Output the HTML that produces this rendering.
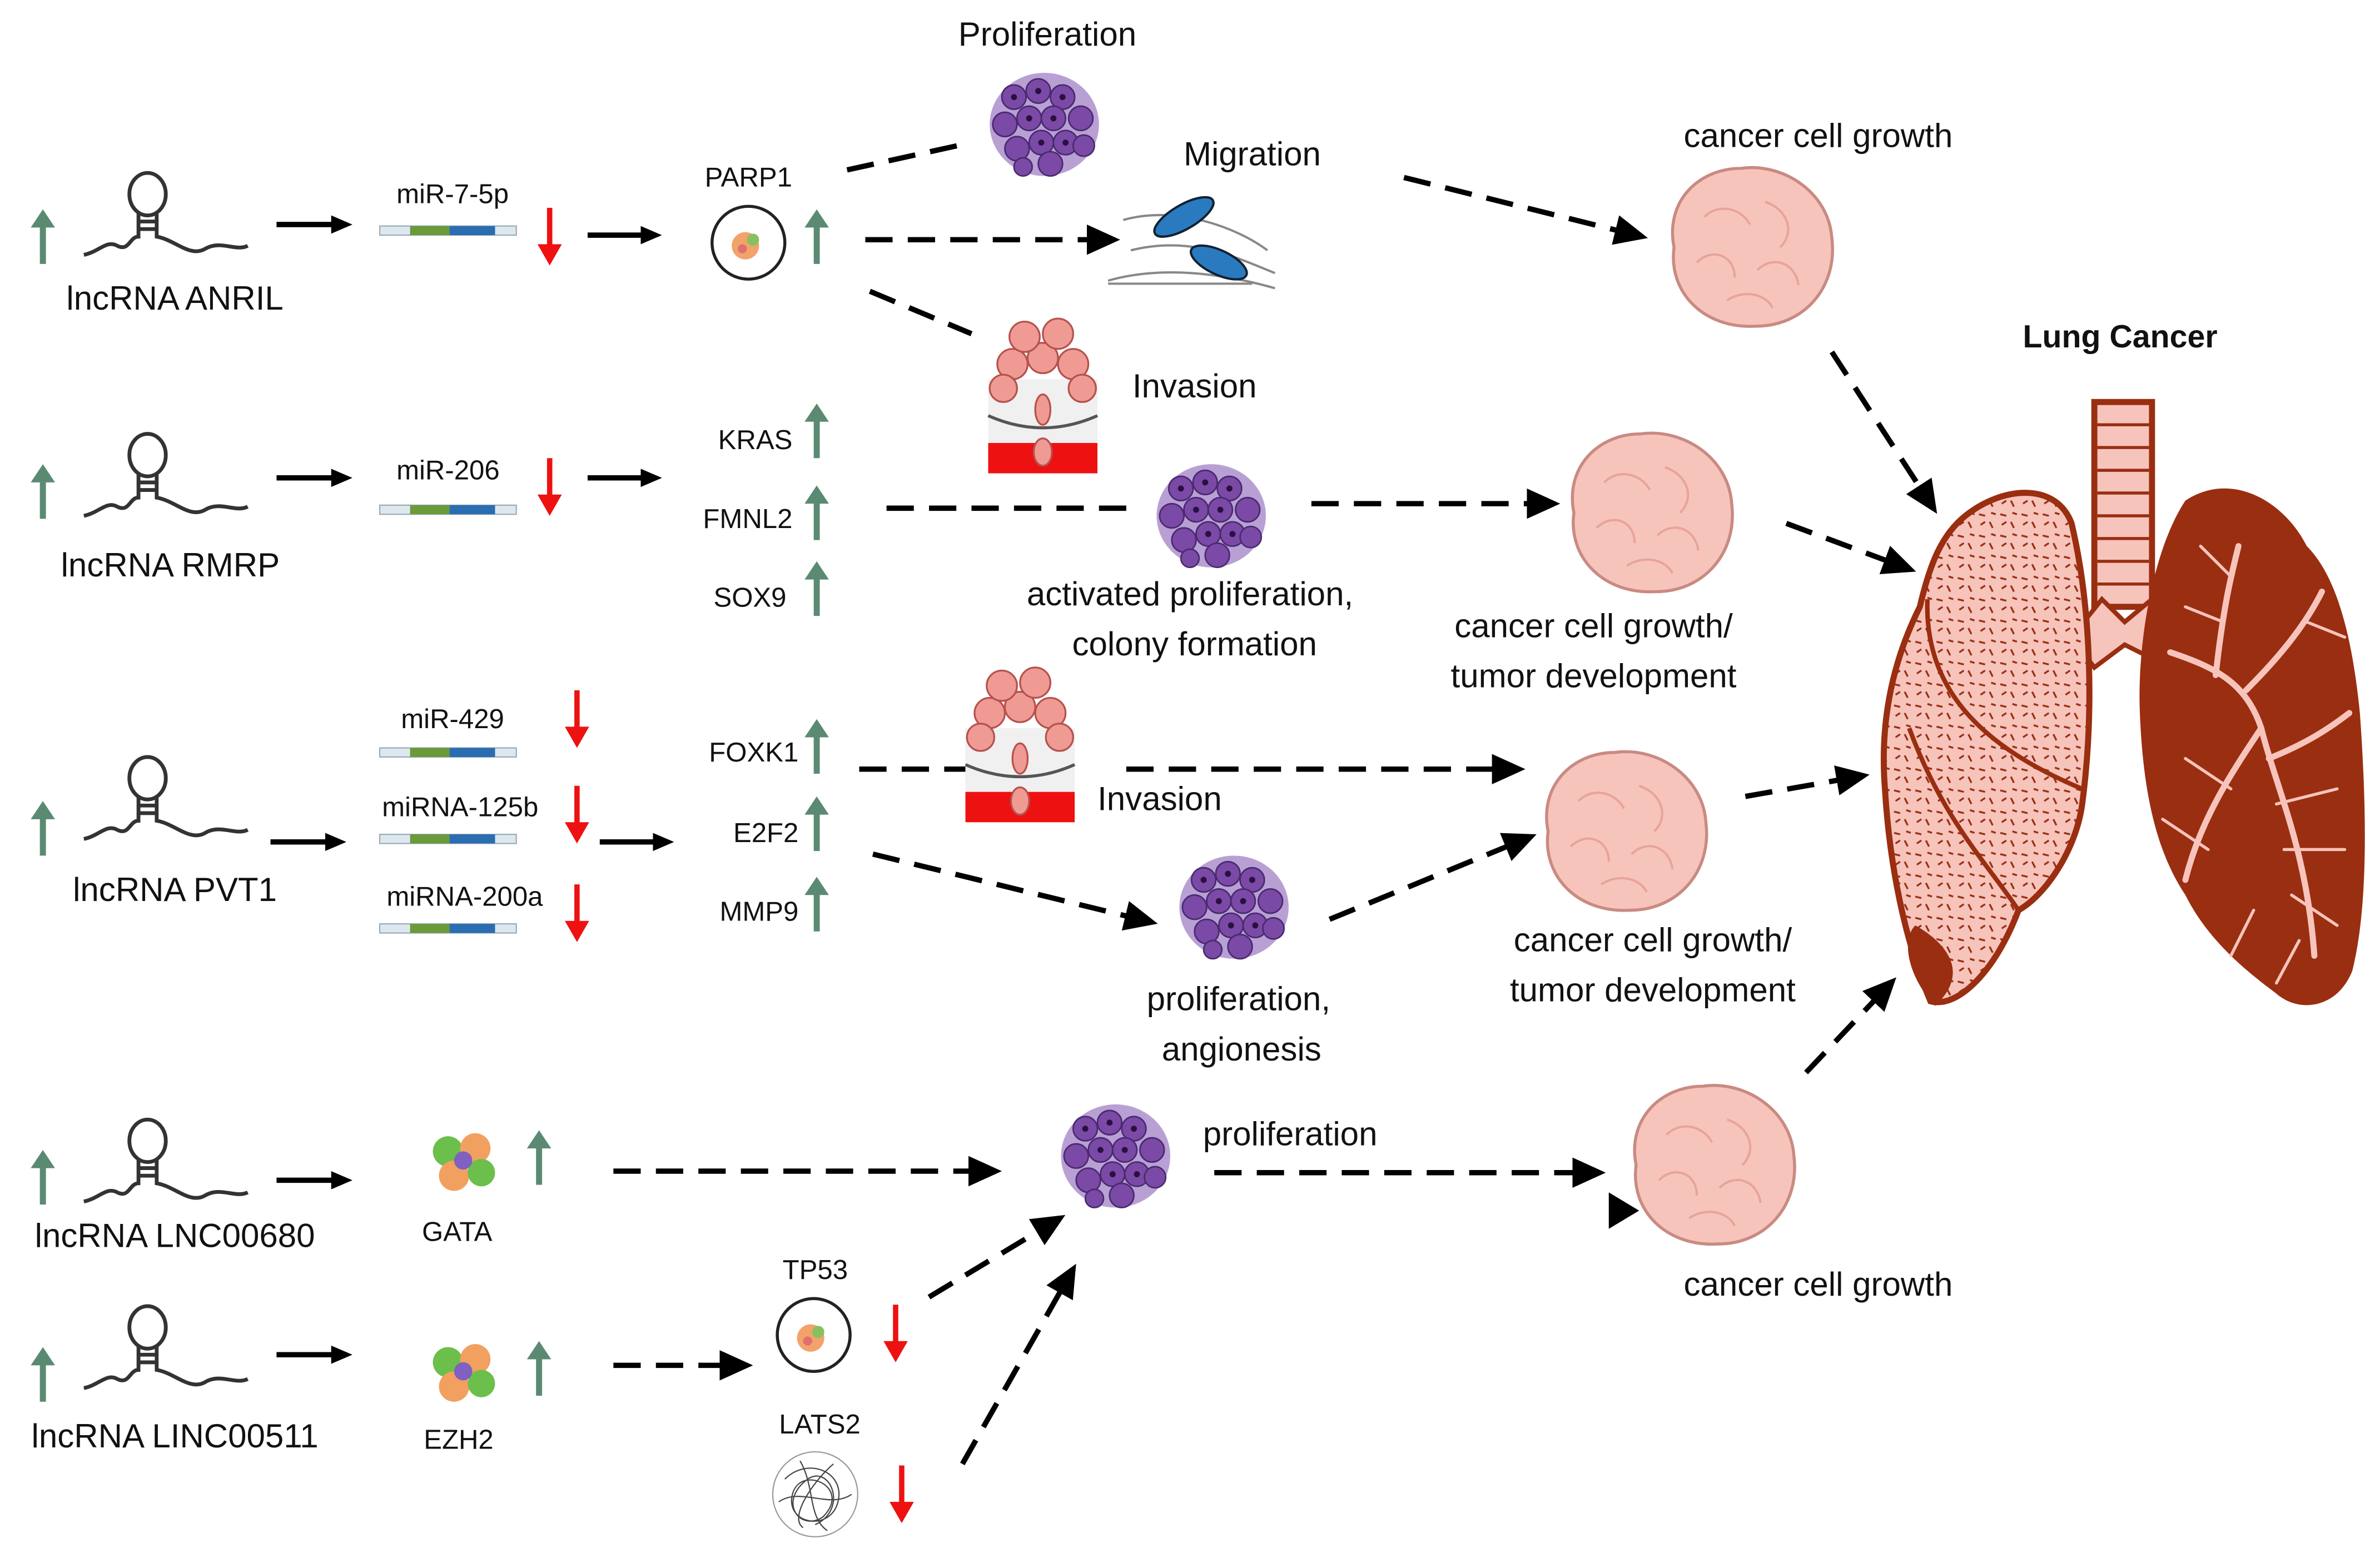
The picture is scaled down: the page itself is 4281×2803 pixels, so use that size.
<!DOCTYPE html>
<html><head><meta charset="utf-8"><style>
html,body{margin:0;padding:0;background:#fff;}
svg{display:block;}
text{font-family:"Liberation Sans",sans-serif;fill:#111;}
</style></head><body>
<svg width="4281" height="2803" viewBox="0 0 1568 1027" xmlns="http://www.w3.org/2000/svg">
<defs>
<marker id="ah" markerWidth="24" markerHeight="24" refX="14" refY="12" orient="auto" markerUnits="userSpaceOnUse" viewBox="0 0 24 24"><path d="M0,2 L22,12 L0,22 z" fill="#000"/></marker>
<marker id="ahs" markerWidth="14" markerHeight="14" refX="8" refY="7" orient="auto" markerUnits="userSpaceOnUse" viewBox="0 0 14 14"><path d="M0,1 L14,7 L0,13 z" fill="#000"/></marker>
<pattern id="spk" width="14" height="14" patternUnits="userSpaceOnUse">
<path d="M2,3 l4,1 M9,8 l2,4 M3,10 l3,-2 M10,2 l3,1" stroke="#9a2e10" stroke-width="1.2"/>
</pattern>
<g id="up"><line x1="0" y1="36" x2="0" y2="8" stroke="#5b8a73" stroke-width="4"/><path d="M-8,12 L0,0 L8,12 z" fill="#5b8a73"/></g>
<g id="dn"><line x1="0" y1="0" x2="0" y2="28" stroke="#ee1111" stroke-width="3.5"/><path d="M-8,24 L0,38 L8,24 z" fill="#ee1111"/></g>
<g id="rna" fill="none" stroke="#333" stroke-width="2.5">
<path d="M0,50 C10,48 15,40 22,44 C30,48 30,38 36,38 L36,22"/>
<ellipse cx="42" cy="10" rx="12" ry="14"/>
<path d="M48,22 L48,38 C60,40 70,52 80,46 C90,40 100,48 108,44"/>
<line x1="36" y1="28" x2="48" y2="28"/><line x1="36" y1="33" x2="48" y2="33"/>
</g>
<g id="mir"><rect x="0" y="0" width="90" height="6" fill="#dde8ee" stroke="#9ab" stroke-width="0.8"/><rect x="20" y="0" width="26" height="6" fill="#6a9a3a"/><rect x="46" y="0" width="30" height="6" fill="#2a6db0"/></g>
<g id="cells">
<ellipse cx="0" cy="0" rx="36" ry="34" fill="#b9a0d4"/>
<g fill="#7a4aa6" stroke="#4a2a70" stroke-width="1">
<circle cx="-20" cy="-18" r="8"/><circle cx="-4" cy="-22" r="8"/><circle cx="12" cy="-18" r="8"/><circle cx="24" cy="-4" r="8"/>
<circle cx="-26" cy="0" r="8"/><circle cx="-10" cy="-4" r="8"/><circle cx="6" cy="-4" r="8"/><circle cx="-18" cy="16" r="8"/>
<circle cx="-2" cy="12" r="8"/><circle cx="14" cy="12" r="8"/><circle cx="26" cy="14" r="7"/><circle cx="4" cy="26" r="8"/><circle cx="-14" cy="28" r="6"/>
</g>
<g fill="#2a1040"><circle cx="-20" cy="-18" r="2"/><circle cx="-4" cy="-22" r="2"/><circle cx="12" cy="-18" r="2"/><circle cx="-10" cy="-4" r="2"/><circle cx="6" cy="-4" r="2"/><circle cx="-2" cy="12" r="2"/><circle cx="14" cy="12" r="2"/></g>
</g>
<g id="tumor">
<path d="M-50,0 C-56,-30 -34,-52 -6,-52 C22,-56 52,-36 54,-6 C58,26 36,52 4,52 C-30,54 -54,30 -50,0 z" fill="#f7c4bc" stroke="#c98a82" stroke-width="2"/>
<g fill="none" stroke="#e7a49a" stroke-width="1.5"><path d="M-30,-20 C-20,-30 -5,-25 0,-15"/><path d="M10,-30 C25,-25 30,-10 20,0"/><path d="M-35,10 C-25,0 -10,5 -10,20"/><path d="M5,15 C15,5 30,10 32,25"/><path d="M-15,35 C-5,28 10,30 15,40"/></g>
</g>
<g id="inv">
<rect x="-36" y="-10" width="72" height="60" fill="#f0f0f0"/>
<rect x="-36" y="32" width="72" height="20" fill="#ee1111"/>
<path d="M-36,14 Q0,30 36,14" fill="none" stroke="#555" stroke-width="2"/>
<g fill="#f09a94" stroke="#b5524e" stroke-width="1.2"><circle cx="-20" cy="-20" r="10"/><circle cx="0" cy="-24" r="10"/><circle cx="20" cy="-20" r="10"/><circle cx="-12" cy="-38" r="10"/><circle cx="10" cy="-40" r="10"/><circle cx="-26" cy="-4" r="9"/><circle cx="26" cy="-4" r="9"/><ellipse cx="0" cy="10" rx="5" ry="10"/><ellipse cx="0" cy="38" rx="6" ry="9"/></g>
</g>
<g id="cellc"><circle cx="0" cy="0" r="24" fill="#fff" stroke="#222" stroke-width="2"/><circle cx="-2" cy="2" r="9" fill="#f2a36a"/><circle cx="3" cy="-2" r="4" fill="#88c060"/><circle cx="-4" cy="4" r="3" fill="#e07070"/></g>
<g id="prot"><circle cx="-10" cy="-6" r="10" fill="#6cbf4a"/><circle cx="8" cy="-8" r="10" fill="#f2a060"/><circle cx="-6" cy="10" r="10" fill="#f2a060"/><circle cx="12" cy="8" r="9" fill="#6cbf4a"/><circle cx="0" cy="0" r="6" fill="#8060c0"/></g>
</defs>

<!-- Row 1 ANRIL -->
<use href="#up" x="28" y="138"/>
<use href="#rna" x="55" y="118"/>
<text x="115" y="204" font-size="22" text-anchor="middle">lncRNA ANRIL</text>
<line x1="182" y1="148" x2="226" y2="148" stroke="#000" stroke-width="3.5" marker-end="url(#ahs)"/>
<text x="298" y="134" font-size="18" text-anchor="middle">miR-7-5p</text>
<use href="#mir" x="250" y="149"/>
<use href="#dn" x="362" y="137"/>
<line x1="387" y1="155" x2="430" y2="155" stroke="#000" stroke-width="3.5" marker-end="url(#ahs)"/>
<text x="493" y="123" font-size="18" text-anchor="middle">PARP1</text>
<use href="#cellc" x="493" y="160"/>
<use href="#up" x="538" y="138"/>

<text x="690" y="30" font-size="22" text-anchor="middle">Proliferation</text>
<use href="#cells" x="688" y="82"/>
<line x1="558" y1="112" x2="640" y2="94" stroke="#000" stroke-width="3.5" stroke-dasharray="18,10"/>
<text x="825" y="109" font-size="22" text-anchor="middle">Migration</text>
<g transform="translate(785,155)">
<path d="M-55,30 C-20,20 20,25 55,35 M-45,-10 C-10,-20 30,-5 50,10 M-40,10 C0,0 30,15 55,25 M-55,32 L40,32" fill="none" stroke="#888" stroke-width="1.5"/>
<ellipse cx="-5" cy="-12" rx="22" ry="8" fill="#2a7ac0" stroke="#123" stroke-width="1.5" transform="rotate(-30 -5 -12)"/>
<ellipse cx="18" cy="18" rx="20" ry="8" fill="#2a7ac0" stroke="#123" stroke-width="1.5" transform="rotate(25 18 18)"/>
</g>
<line x1="570" y1="158" x2="730" y2="158" stroke="#000" stroke-width="3.5" stroke-dasharray="18,10" marker-end="url(#ah)"/>
<line x1="573" y1="192" x2="640" y2="220" stroke="#000" stroke-width="3.5" stroke-dasharray="18,10"/>
<use href="#inv" x="687" y="260"/>
<text x="787" y="262" font-size="22" text-anchor="middle">Invasion</text>
<text x="1198" y="97" font-size="22" text-anchor="middle">cancer cell growth</text>
<line x1="925" y1="117" x2="1078" y2="155" stroke="#000" stroke-width="3.5" stroke-dasharray="18,10" marker-end="url(#ah)"/>
<use href="#tumor" x="1153" y="163"/>
<line x1="1207" y1="232" x2="1272" y2="332" stroke="#000" stroke-width="3.5" stroke-dasharray="18,10" marker-end="url(#ah)"/>

<!-- Row 2 RMRP -->
<use href="#up" x="28" y="306"/>
<use href="#rna" x="55" y="290"/>
<text x="112" y="380" font-size="22" text-anchor="middle">lncRNA RMRP</text>
<line x1="182" y1="315" x2="226" y2="315" stroke="#000" stroke-width="3.5" marker-end="url(#ahs)"/>
<text x="295" y="316" font-size="18" text-anchor="middle">miR-206</text>
<use href="#mir" x="250" y="333"/>
<use href="#dn" x="362" y="302"/>
<line x1="387" y1="315" x2="430" y2="315" stroke="#000" stroke-width="3.5" marker-end="url(#ahs)"/>
<text x="522" y="296" font-size="18" text-anchor="end">KRAS</text>
<use href="#up" x="538" y="266"/>
<text x="522" y="348" font-size="18" text-anchor="end">FMNL2</text>
<use href="#up" x="538" y="320"/>
<text x="518" y="400" font-size="18" text-anchor="end">SOX9</text>
<use href="#up" x="538" y="370"/>
<line x1="584" y1="335" x2="750" y2="335" stroke="#000" stroke-width="3.5" stroke-dasharray="18,10"/>
<use href="#cells" x="798" y="340"/>
<text x="784" y="399" font-size="22" text-anchor="middle">activated proliferation,</text>
<text x="787" y="432" font-size="22" text-anchor="middle">colony formation</text>
<line x1="864" y1="332" x2="1020" y2="332" stroke="#000" stroke-width="3.5" stroke-dasharray="18,10" marker-end="url(#ah)"/>
<use href="#tumor" x="1087" y="338"/>
<text x="1050" y="420" font-size="22" text-anchor="middle">cancer cell growth/</text>
<text x="1050" y="453" font-size="22" text-anchor="middle">tumor development</text>
<line x1="1177" y1="345" x2="1255" y2="374" stroke="#000" stroke-width="3.5" stroke-dasharray="18,10" marker-end="url(#ah)"/>

<text x="1397" y="229" font-size="21" font-weight="bold" text-anchor="middle">Lung Cancer</text>

<!-- Row 3 PVT1 -->
<use href="#up" x="28" y="528"/>
<use href="#rna" x="55" y="503"/>
<text x="115" y="594" font-size="22" text-anchor="middle">lncRNA PVT1</text>
<line x1="178" y1="555" x2="222" y2="555" stroke="#000" stroke-width="3.5" marker-end="url(#ahs)"/>
<text x="298" y="480" font-size="18" text-anchor="middle">miR-429</text>
<use href="#mir" x="250" y="493"/>
<use href="#dn" x="380" y="455"/>
<text x="303" y="538" font-size="18" text-anchor="middle">miRNA-125b</text>
<use href="#mir" x="250" y="550"/>
<use href="#dn" x="380" y="518"/>
<text x="306" y="597" font-size="18" text-anchor="middle">miRNA-200a</text>
<use href="#mir" x="250" y="609"/>
<use href="#dn" x="380" y="583"/>
<line x1="395" y1="555" x2="438" y2="555" stroke="#000" stroke-width="3.5" marker-end="url(#ahs)"/>
<text x="526" y="502" font-size="18" text-anchor="end">FOXK1</text>
<use href="#up" x="538" y="474"/>
<text x="526" y="555" font-size="18" text-anchor="end">E2F2</text>
<use href="#up" x="538" y="525"/>
<text x="526" y="607" font-size="18" text-anchor="end">MMP9</text>
<use href="#up" x="538" y="578"/>
<line x1="566" y1="507" x2="636" y2="507" stroke="#000" stroke-width="3.5" stroke-dasharray="18,10"/>
<use href="#inv" x="672" y="490"/>
<text x="764" y="534" font-size="22" text-anchor="middle">Invasion</text>
<line x1="742" y1="507" x2="997" y2="507" stroke="#000" stroke-width="3.5" stroke-dasharray="18,10" marker-end="url(#ah)"/>
<line x1="575" y1="563" x2="755" y2="607" stroke="#000" stroke-width="3.5" stroke-dasharray="18,10" marker-end="url(#ah)"/>
<use href="#cells" x="813" y="598"/>
<text x="816" y="666" font-size="22" text-anchor="middle">proliferation,</text>
<text x="818" y="699" font-size="22" text-anchor="middle">angionesis</text>
<line x1="876" y1="606" x2="1005" y2="553" stroke="#000" stroke-width="3.5" stroke-dasharray="18,10" marker-end="url(#ah)"/>
<use href="#tumor" x="1070" y="548"/>
<text x="1089" y="627" font-size="22" text-anchor="middle">cancer cell growth/</text>
<text x="1089" y="660" font-size="22" text-anchor="middle">tumor development</text>
<line x1="1150" y1="525" x2="1224" y2="512" stroke="#000" stroke-width="3.5" stroke-dasharray="18,10" marker-end="url(#ah)"/>

<!-- Row 4 LNC00680 -->
<use href="#up" x="28" y="758"/>
<use href="#rna" x="55" y="742"/>
<text x="115" y="822" font-size="22" text-anchor="middle">lncRNA LNC00680</text>
<line x1="182" y1="778" x2="226" y2="778" stroke="#000" stroke-width="3.5" marker-end="url(#ahs)"/>
<use href="#prot" x="305" y="765"/>
<text x="301" y="818" font-size="18" text-anchor="middle">GATA</text>
<use href="#up" x="355" y="745"/>
<line x1="404" y1="772" x2="652" y2="772" stroke="#000" stroke-width="3.5" stroke-dasharray="18,10" marker-end="url(#ah)"/>
<use href="#cells" x="735" y="762"/>
<text x="850" y="755" font-size="22" text-anchor="middle">proliferation</text>
<line x1="800" y1="773" x2="1050" y2="773" stroke="#000" stroke-width="3.5" stroke-dasharray="18,10" marker-end="url(#ah)"/>
<path d="M1060,786 L1080,798 L1060,810 z" fill="#000"/>
<use href="#tumor" x="1128" y="768"/>
<text x="1198" y="854" font-size="22" text-anchor="middle">cancer cell growth</text>
<line x1="1190" y1="707" x2="1244" y2="650" stroke="#000" stroke-width="3.5" stroke-dasharray="18,10" marker-end="url(#ah)"/>

<!-- Row 5 LINC00511 -->
<use href="#up" x="28" y="888"/>
<use href="#rna" x="55" y="865"/>
<text x="115" y="954" font-size="22" text-anchor="middle">lncRNA LINC00511</text>
<line x1="182" y1="893" x2="226" y2="893" stroke="#000" stroke-width="3.5" marker-end="url(#ahs)"/>
<use href="#prot" x="305" y="904"/>
<text x="302" y="955" font-size="18" text-anchor="middle">EZH2</text>
<use href="#up" x="355" y="884"/>
<line x1="404" y1="900" x2="488" y2="900" stroke="#000" stroke-width="3.5" stroke-dasharray="18,10" marker-end="url(#ah)"/>
<text x="537" y="843" font-size="18" text-anchor="middle">TP53</text>
<use href="#cellc" x="536" y="880"/>
<use href="#dn" x="590" y="860"/>
<line x1="612" y1="855" x2="695" y2="805" stroke="#000" stroke-width="3.5" stroke-dasharray="18,10" marker-end="url(#ah)"/>
<text x="540" y="945" font-size="18" text-anchor="middle">LATS2</text>
<g transform="translate(537,985)" fill="none" stroke="#444" stroke-width="0.8">
<circle r="28" stroke="#999"/><path d="M-20,-10 C-5,-25 20,-15 15,5 C10,25 -20,20 -15,0 C-10,-20 25,-5 5,15 C-10,25 -25,5 -5,-10 C10,-20 22,10 0,20"/>
<path d="M-24,5 C-10,-5 10,10 24,0 M-10,-22 C0,-5 -5,15 8,24 M12,-20 C0,-10 -18,15 -8,22"/>
</g>
<use href="#dn" x="594" y="966"/>
<line x1="634" y1="965" x2="705" y2="840" stroke="#000" stroke-width="3.5" stroke-dasharray="18,10" marker-end="url(#ah)"/>

<!-- Lungs -->
<g>
<rect x="1380" y="265" width="38" height="135" fill="#f7c4bc" stroke="#9a2e10" stroke-width="4"/>
<g stroke="#9a2e10" stroke-width="2"><line x1="1382" y1="280" x2="1416" y2="280"/><line x1="1382" y1="295" x2="1416" y2="295"/><line x1="1382" y1="310" x2="1416" y2="310"/><line x1="1382" y1="325" x2="1416" y2="325"/><line x1="1382" y1="340" x2="1416" y2="340"/><line x1="1382" y1="355" x2="1416" y2="355"/><line x1="1382" y1="370" x2="1416" y2="370"/><line x1="1382" y1="385" x2="1416" y2="385"/></g>
<path d="M1365,420 L1385,395 L1400,410 L1418,395 L1435,420 L1420,435 L1400,425 L1380,440 z" fill="#f7c4bc" stroke="#9a2e10" stroke-width="3"/>
<path id="ll" d="M1295,340 C1320,320 1355,318 1365,345 C1378,400 1380,470 1372,530 C1368,560 1348,590 1330,600 C1315,640 1290,665 1272,660 C1255,620 1245,570 1242,520 C1238,470 1250,430 1265,400 C1272,370 1280,352 1295,340 z" fill="#f7c4bc" stroke="#9a2e10" stroke-width="4"/>
<path d="M1295,340 C1320,320 1355,318 1365,345 C1378,400 1380,470 1372,530 C1368,560 1348,590 1330,600 C1315,640 1290,665 1272,660 C1255,620 1245,570 1242,520 C1238,470 1250,430 1265,400 C1272,370 1280,352 1295,340 z" fill="url(#spk)"/>
<path d="M1270,395 C1268,450 1300,490 1372,520 M1258,480 C1280,540 1310,570 1330,600" fill="none" stroke="#9a2e10" stroke-width="3"/>
<path d="M1262,610 C1280,620 1300,640 1275,663 C1258,645 1252,620 1262,610 z" fill="#9a2e10"/>
<path d="M1440,330 C1470,310 1505,330 1520,360 C1540,380 1550,420 1555,470 C1560,540 1560,600 1550,640 C1540,665 1515,668 1500,655 C1480,640 1455,620 1440,590 C1420,560 1412,520 1410,470 C1408,420 1420,360 1440,330 z" fill="#9a2e10"/>
<g fill="none" stroke="#f7c4bc" stroke-width="4" stroke-linecap="round">
<path d="M1430,430 C1460,440 1480,450 1490,480 C1500,520 1520,560 1525,630"/>
<path d="M1490,480 C1470,510 1450,540 1440,580"/>
<path d="M1460,445 C1465,400 1470,380 1475,360"/>
<path d="M1480,455 C1505,430 1520,410 1530,390"/>
<path d="M1495,500 C1520,490 1535,480 1548,470"/>
</g>
<g fill="none" stroke="#f7c4bc" stroke-width="2" stroke-linecap="round">
<path d="M1500,530 L1540,520 M1505,560 L1545,560 M1510,590 L1540,610 M1470,520 L1440,500 M1455,560 L1425,540 M1470,380 L1450,360 M1520,410 L1545,420 M1465,410 L1440,400 M1485,600 L1470,630 M1515,620 L1500,648"/>
</g>
</g>
</svg>
</body></html>
